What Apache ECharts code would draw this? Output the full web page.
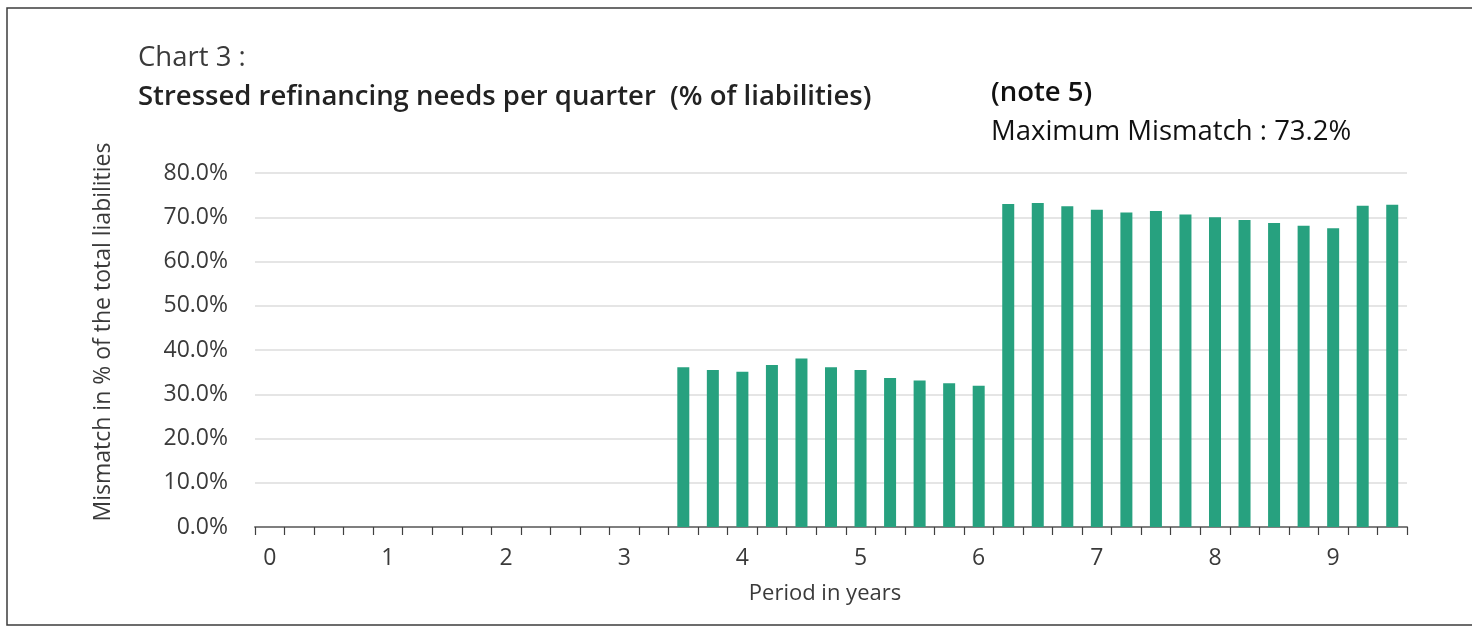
<!DOCTYPE html>
<html>
<head>
<meta charset="utf-8">
<title>Stressed refinancing needs per quarter</title>
<script src="https://cdn.jsdelivr.net/npm/echarts@6/dist/echarts.min.js"></script>
<style>
  html, body { margin: 0; padding: 0; background: #ffffff; }
  #chart { width: 1472px; height: 627px; }
</style>
</head>
<body>
<div id="chart"></div>
<script>
// Quarters (in years) from 0 to 9.5
const quarters = [
  '0.00', '0.25', '0.50', '0.75', '1.00', '1.25', '1.50', '1.75',
  '2.00', '2.25', '2.50', '2.75', '3.00', '3.25', '3.50', '3.75',
  '4.00', '4.25', '4.50', '4.75', '5.00', '5.25', '5.50', '5.75',
  '6.00', '6.25', '6.50', '6.75', '7.00', '7.25', '7.50', '7.75',
  '8.00', '8.25', '8.50', '8.75', '9.00', '9.25', '9.50'
];

// Stressed refinancing need per quarter, % of total liabilities
const mismatch = [
  0, 0, 0, 0, 0, 0, 0, 0, 0, 0, 0, 0, 0, 0,
  36.1, 35.5, 35.1, 36.6, 38.1, 36.1, 35.5, 33.7, 33.1, 32.5, 31.9,
  73.0, 73.2, 72.5, 71.7, 71.1, 71.4, 70.6, 70.0, 69.4, 68.7, 68.1, 67.5, 72.6, 72.8
];

const yTicks = [0, 10, 20, 30, 40, 50, 60, 70, 80];

const FONT = '"Open Sans", "Noto Sans", sans-serif';
const TEXT = '#3a3a3a';

const maxValue = Math.max(...mismatch);

const chart = echarts.init(document.getElementById('chart'), null, { renderer: 'canvas' });

chart.setOption({
  backgroundColor: '#ffffff',
  animation: false,
  textStyle: { fontFamily: FONT },
  title: [
    {
      text: 'Chart 3 :',
      left: 133, top: 39,
      textStyle: { fontFamily: FONT, fontSize: 27.5, fontWeight: 'normal', color: TEXT }
    },
    {
      text: 'Stressed refinancing needs per quarter  (% of liabilities)',
      left: 133, top: 78,
      textStyle: { fontFamily: FONT, fontSize: 27.5, fontWeight: 600, color: '#222222' }
    },
    {
      text: '(note 5)',
      left: 986, top: 74,
      textStyle: { fontFamily: FONT, fontSize: 27.5, fontWeight: 600, color: '#111111' }
    },
    {
      text: 'Maximum Mismatch : ' + maxValue.toFixed(1) + '%',
      left: 986, top: 113,
      textStyle: { fontFamily: FONT, fontSize: 27.5, fontWeight: 'normal', color: '#111111' }
    }
  ],
  graphic: [
    {
      type: 'rect',
      shape: { x: 7, y: 8, width: 1500, height: 617 },
      style: { fill: 'none', stroke: '#3c3c3c', lineWidth: 1.5 },
      silent: true
    }
  ],
  grid: { left: 255, right: 65, top: 173, bottom: 100, containLabel: false },
  xAxis: {
    type: 'category',
    data: quarters,
    boundaryGap: true,
    name: 'Period in years',
    nameLocation: 'middle',
    nameGap: 56,
    nameTextStyle: { fontFamily: FONT, fontSize: 22, color: TEXT, padding: [0, 12, 0, 0] },
    axisLine: { lineStyle: { color: '#7f7f7f', width: 2 } },
    axisTick: { show: true, interval: 0, alignWithLabel: false, length: 8, lineStyle: { color: '#404040', width: 1.2 } },
    axisLabel: {
      interval: 3,
      margin: 20,
      fontFamily: FONT, fontSize: 23, color: TEXT,
      formatter: v => String(parseInt(v, 10))
    },
    splitLine: { show: false }
  },
  yAxis: {
    type: 'value',
    min: yTicks[0],
    max: yTicks[yTicks.length - 1],
    interval: 10,
    name: 'Mismatch in % of the total liabilities',
    nameLocation: 'middle',
    nameRotate: 90,
    nameGap: 140,
    nameTextStyle: { fontFamily: FONT, fontSize: 23, color: TEXT, padding: [0, 0, 0, 36] },
    axisLine: { show: false },
    axisTick: { show: false },
    axisLabel: {
      margin: 27,
      fontFamily: FONT, fontSize: 23, color: TEXT,
      formatter: v => v.toFixed(1) + '%'
    },
    splitLine: { show: true, lineStyle: { color: '#dcdcdc', width: 1.5 } }
  },
  series: [
    {
      type: 'bar',
      data: mismatch,
      barWidth: 12,
      itemStyle: { color: '#27a17f' },
      silent: true
    }
  ]
});
</script>
</body>
</html>
